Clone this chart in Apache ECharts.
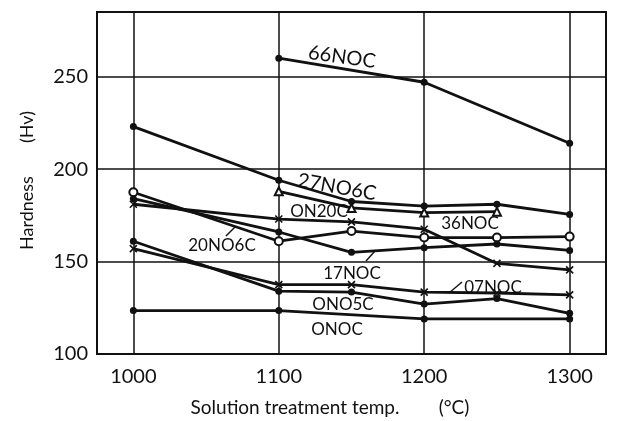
<!DOCTYPE html>
<html>
<head>
<meta charset="utf-8">
<script src="https://cdn.jsdelivr.net/npm/echarts@6/dist/echarts.min.js"></script>
<style>
  html, body { margin: 0; padding: 0; background: #fff; }
  #chart { width: 628px; height: 421px; }
</style>
</head>
<body>
<div id="chart"></div>
<script>
// Solution treatment temperature (°C) and Vickers hardness (Hv) per alloy
const temps = [1000, 1100, 1150, 1200, 1250, 1300];
const xTicks = [1000, 1100, 1200, 1300];
const yTicks = [100, 150, 200, 250];

const hv66NOC  = [null, 260,   null,  247,   null,  214];
const hv27NO6C = [223,  194,   182.5, 180,   181,   175.5];
const hv36NOC  = [null, 188,   179,   176.5, 177,   null];
const hvON20C  = [181,  173,   171.5, 167.5, 149,   145.5];
const hv20NO6C = [187.5, 161,  166.5, 163,   163,   163.5];
const hv17NOC  = [184,  166,   155,   157.5, 159.5, 156];
const hv07NOC  = [157,  137.5, 137.5, 133.5, 133,   132];
const hvONO5C  = [161,  134,   133.5, 127,   130,   122];
const hvONOC   = [123.5, 123.5, null, 119,   null,  119];

const FONT = 'Lato';
const INK = '#111';
const CROSS = 'path://M0,0L10,10M10,0L0,10';

function pairs(vals) {
  return temps.map((t, i) => [t, vals[i]]).filter(p => p[1] !== null);
}

function lineSeries(name, vals, symbol) {
  const hollow = symbol === 'emptyCircle' || symbol === 'emptyTriangle';
  return {
    name: name,
    type: 'line',
    data: pairs(vals),
    symbol: symbol,
    symbolSize: hollow ? 8 : 7,
    showAllSymbol: true,
    connectNulls: true,
    animation: false,
    lineStyle: { color: INK, width: 2.8 },
    itemStyle: {
      color: INK,
      borderColor: INK,
      borderWidth: symbol === CROSS ? 1.6 : (hollow ? 1.6 : 0)
    },
    z: 3
  };
}

// series label text placed beside each curve
function tag(text, x, y, size, rot) {
  return {
    type: 'text',
    x: x, y: y,
    rotation: (rot || 0) * Math.PI / 180,
    style: {
      text: text, fill: INK, font: size + 'px ' + FONT,
      align: 'center', verticalAlign: 'middle'
    },
    z: 10
  };
}
function arrow(x1, y1, x2, y2) {
  return {
    type: 'line',
    shape: { x1: x1, y1: y1, x2: x2, y2: y2 },
    style: { stroke: INK, lineWidth: 1.4 },
    z: 10
  };
}
function title(text, x, y, size, rot) {
  return {
    type: 'text', x: x, y: y, rotation: rot || 0,
    style: { text: text, fill: INK, font: size + 'px ' + FONT, align: 'center', verticalAlign: 'middle' }
  };
}

const chart = echarts.init(document.getElementById('chart'), null, { renderer: 'canvas' });

chart.setOption({
  backgroundColor: '#fff',
  animation: false,
  grid: {
    left: 97, right: 22, top: 12, bottom: 67,
    show: true, borderColor: INK, borderWidth: 2, backgroundColor: 'transparent'
  },
  xAxis: {
    type: 'value',
    min: 975, max: 1325,
    axisLine: { show: false },
    axisTick: { show: false, customValues: xTicks },
    axisLabel: {
      customValues: xTicks, color: INK, fontFamily: FONT, fontSize: 20, margin: 13,
      formatter: v => String(v)
    },
    splitLine: { show: true, lineStyle: { color: INK, width: 1.5 } }
  },
  yAxis: {
    type: 'value',
    min: 100, max: 285,
    axisLine: { show: false },
    axisTick: { show: false, customValues: yTicks },
    axisLabel: {
      customValues: yTicks, color: INK, fontFamily: FONT, fontSize: 20, margin: 9,
      formatter: v => String(v)
    },
    splitLine: { show: true, lineStyle: { color: INK, width: 1.5 } }
  },
  series: [
    lineSeries('66NOC', hv66NOC, 'circle'),
    lineSeries('27NO6C', hv27NO6C, 'circle'),
    lineSeries('36NOC', hv36NOC, 'emptyTriangle'),
    lineSeries('ON20C', hvON20C, CROSS),
    lineSeries('20NO6C', hv20NO6C, 'emptyCircle'),
    lineSeries('17NOC', hv17NOC, 'circle'),
    lineSeries('07NOC', hv07NOC, CROSS),
    lineSeries('ONO5C', hvONO5C, 'circle'),
    lineSeries('ONOC', hvONOC, 'circle')
  ],
  graphic: [
    tag('66NOC', 342, 57, 20, -8),
    tag('27NO6C', 337, 187, 20, -10),
    tag('ON20C', 319, 212, 17),
    tag('36NOC', 470, 224, 17),
    tag('20NO6C', 222, 246, 17),
    arrow(226, 236, 235, 227),
    tag('17NOC', 352, 274, 17),
    arrow(366, 261, 375, 251),
    tag('07NOC', 493, 288, 17),
    arrow(449, 293, 462, 282),
    tag('ONO5C', 343, 305, 17),
    tag('ONOC', 337, 330, 17),
    // axis titles
    title('Hardness', 27, 213, 18, Math.PI / 2),
    title('(Hv)', 27, 127, 18, Math.PI / 2),
    title('Solution treatment temp.', 295, 408, 19),
    title('(°C)', 454, 408, 19)
  ]
});
</script>
</body>
</html>
